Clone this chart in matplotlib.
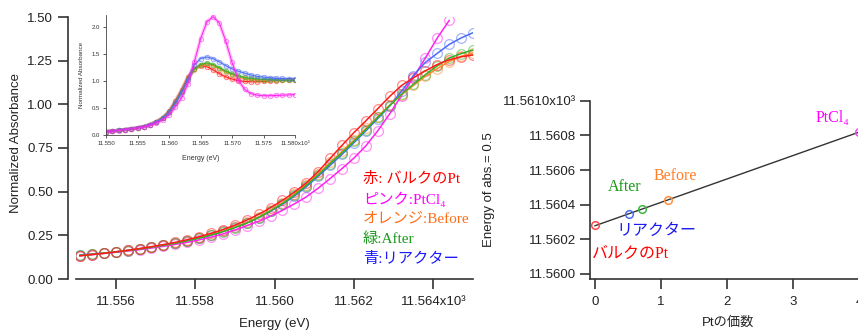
import matplotlib.pyplot as plt
import numpy as np

plt.rcParams['font.family'] = ['Liberation Sans', 'Noto Sans CJK JP']

# colours for the five samples
c_red = '#ff1a1a'
c_pink = '#ff22ee'
c_orange = '#ff8a2a'
c_green = '#33b02a'
c_blue = '#4a6cf7'

# -------------- main panel: edge region (keV) --------------
energy = [11.5551, 11.5554, 11.5557, 11.5560, 11.5563, 11.5566, 11.5569, 11.5572,
          11.5575, 11.5578, 11.5581, 11.5584, 11.5587, 11.5590, 11.5593, 11.5596,
          11.5599, 11.5602, 11.5605, 11.5608, 11.5611, 11.5614, 11.5617, 11.5620,
          11.5623, 11.5626, 11.5629, 11.5632, 11.5635, 11.5638, 11.5641, 11.5644,
          11.5647, 11.5650]
abs_red = [0.133, 0.140, 0.147, 0.155, 0.164, 0.174, 0.185, 0.197, 0.210, 0.225,
           0.242, 0.261, 0.283, 0.308, 0.337, 0.370, 0.408, 0.450, 0.497, 0.550,
           0.615, 0.690, 0.765, 0.838, 0.905, 0.975, 1.045, 1.108, 1.152, 1.192,
           1.228, 1.255, 1.272, 1.283]
abs_green = [0.135, 0.141, 0.148, 0.155, 0.163, 0.172, 0.182, 0.193, 0.205, 0.219,
             0.234, 0.251, 0.271, 0.294, 0.320, 0.352, 0.390, 0.432, 0.480, 0.535,
             0.595, 0.660, 0.722, 0.788, 0.855, 0.925, 0.992, 1.058, 1.115, 1.170,
             1.220, 1.265, 1.290, 1.312]
abs_orange = [0.134, 0.141, 0.148, 0.156, 0.164, 0.173, 0.183, 0.194, 0.206, 0.220,
              0.236, 0.253, 0.273, 0.297, 0.324, 0.356, 0.394, 0.437, 0.486, 0.541,
              0.602, 0.667, 0.730, 0.795, 0.862, 0.930, 0.995, 1.055, 1.108, 1.160,
              1.205, 1.245, 1.275, 1.295]
abs_blue = [0.138, 0.143, 0.149, 0.156, 0.164, 0.173, 0.183, 0.194, 0.206, 0.220,
            0.235, 0.252, 0.272, 0.295, 0.321, 0.352, 0.388, 0.428, 0.474, 0.528,
            0.588, 0.650, 0.713, 0.780, 0.848, 0.918, 0.990, 1.075, 1.165, 1.240,
            1.292, 1.343, 1.380, 1.410]
abs_pink = [0.133, 0.139, 0.146, 0.153, 0.160, 0.168, 0.177, 0.187, 0.198, 0.210,
            0.224, 0.240, 0.258, 0.280, 0.305, 0.330, 0.360, 0.393, 0.430, 0.470,
            0.520, 0.575, 0.632, 0.692, 0.762, 0.848, 0.945, 1.050, 1.155, 1.265,
            1.380, 1.480]

# -------------- inset: full spectra (keV) --------------
inset_energy = [11.550, 11.551, 11.552, 11.553, 11.554, 11.555, 11.556, 11.557,
                11.558, 11.559, 11.560, 11.561, 11.562, 11.563, 11.564, 11.565,
                11.566, 11.567, 11.568, 11.569, 11.570, 11.571, 11.572, 11.573,
                11.574, 11.575, 11.576, 11.577, 11.578, 11.579, 11.580]
inset_red = [0.060, 0.072, 0.085, 0.098, 0.113, 0.130, 0.155, 0.195, 0.248, 0.320,
             0.440, 0.630, 0.840, 1.080, 1.230, 1.285, 1.270, 1.210, 1.140, 1.080,
             1.040, 1.010, 0.995, 0.990, 0.990, 0.995, 1.005, 1.010, 1.015, 1.020, 1.020]
inset_green = [0.062, 0.073, 0.086, 0.099, 0.114, 0.131, 0.155, 0.193, 0.242, 0.310,
               0.420, 0.600, 0.800, 1.040, 1.220, 1.310, 1.340, 1.310, 1.250, 1.190,
               1.140, 1.100, 1.070, 1.050, 1.040, 1.030, 1.030, 1.025, 1.020, 1.020, 1.015]
inset_orange = [0.061, 0.073, 0.086, 0.099, 0.114, 0.131, 0.156, 0.194, 0.245, 0.315,
                0.425, 0.605, 0.810, 1.050, 1.210, 1.295, 1.320, 1.290, 1.230, 1.170,
                1.120, 1.080, 1.050, 1.035, 1.025, 1.020, 1.020, 1.020, 1.020, 1.020, 1.020]
inset_blue = [0.064, 0.075, 0.087, 0.100, 0.115, 0.133, 0.157, 0.194, 0.243, 0.310,
              0.420, 0.595, 0.790, 1.030, 1.300, 1.420, 1.450, 1.420, 1.360, 1.290,
              1.230, 1.185, 1.150, 1.115, 1.090, 1.075, 1.065, 1.055, 1.050, 1.045, 1.040]
inset_pink = [0.060, 0.071, 0.083, 0.096, 0.111, 0.128, 0.150, 0.180, 0.225, 0.280,
              0.370, 0.520, 0.690, 0.950, 1.350, 1.780, 2.100, 2.200, 2.080, 1.750,
              1.350, 1.020, 0.850, 0.770, 0.740, 0.730, 0.730, 0.735, 0.740, 0.745, 0.750]

# -------------- right panel: edge energy vs Pt valence --------------
valence = [0.0, 0.52, 0.71, 1.11, 4.0]
edge_energy = [11.560282, 11.560346, 11.560373, 11.560428, 11.560820]
point_colors = ['#ff4a4a', '#4a6cf7', '#3cb83c', '#ff9040', '#ff40ff']
point_names = ['バルクのPt', 'リアクター', 'After', 'Before', 'PtCl₄']
name_colors = ['#ff0000', '#1a1aee', '#1a9a1a', '#ff7f2a', '#ff00ff']
name_pos = [(0.53, 11.560118), (0.93, 11.560248), (0.455, 11.560500),
            (1.21, 11.560565), (3.6, 11.560900)]

serif_jp = ['Liberation Serif', 'Noto Sans CJK JP', 'DejaVu Serif']

fig = plt.figure(figsize=(8.58, 3.33), dpi=100)

# ---------------- main ----------------
ax = fig.add_axes([76 / 858, 1 - 279 / 333, 397 / 858, 262 / 333])
series = [(abs_pink, c_pink), (abs_blue, c_blue), (abs_orange, c_orange),
          (abs_green, c_green), (abs_red, c_red)]
for vals, col in series:
    x = energy[:len(vals)]
    ax.plot(x, vals, color=col, lw=1.1, zorder=3)
    ax.plot(x, vals, 'o', mfc='none', mec=col, mew=0.9, ms=7, alpha=0.5, zorder=2)

ax.set_xlim(11.555, 11.565)
ax.set_ylim(0, 1.5)
for s in ['top', 'right']:
    ax.spines[s].set_visible(False)
ax.spines['left'].set_position(('outward', 6))
for s in ['left', 'bottom']:
    ax.spines[s].set_linewidth(1.2)
    ax.spines[s].set_color('#333333')
ax.tick_params(direction='out', length=7, width=1.2, color='#333333',
               labelsize=9.5, labelcolor='#222222')
ax.tick_params(axis='x', pad=5)
ax.set_xticks([11.556, 11.558, 11.560, 11.562, 11.564])
ax.set_xticklabels(['11.556', '11.558', '11.560', '11.562', '11.564x10³'])
ax.set_yticks([0, 0.25, 0.5, 0.75, 1.0, 1.25, 1.5])
ax.set_yticklabels(['0.00', '0.25', '0.50', '0.75', '1.00', '1.25', '1.50'])
ax.set_ylabel('Normalized Absorbance', fontsize=9.5, color='#222222')
ax.yaxis.set_label_coords(-0.136, 0.52)
ax.set_xlabel('Energy (eV)', fontsize=9.5, color='#222222')
ax.xaxis.set_label_coords(0.5, -0.15)

legend_lines = [('赤: バルクのPt', '#ff0000'),
                ('ピンク:PtCl₄', '#ff00ff'),
                ('オレンジ:Before', '#ff6f1a'),
                ('緑:After', '#1f9a1f'),
                ('青:リアクター', '#1a1aff')]
for i, (txt, col) in enumerate(legend_lines):
    ax.text(0.723, 0.382 - i * 0.0765, txt, transform=ax.transAxes, color=col,
            fontsize=11, family=serif_jp, va='center', ha='left')

# ---------------- inset ----------------
ins = fig.add_axes([106 / 858, 1 - 135 / 333, 189 / 858, 120 / 333])
ins.patch.set_alpha(0)
inset_series = [(inset_red, c_red), (inset_orange, c_orange), (inset_green, c_green),
                (inset_blue, c_blue), (inset_pink, c_pink)]
for vals, col in inset_series:
    ins.plot(inset_energy, vals, color=col, lw=2.6, alpha=0.3)
    ins.plot(inset_energy, vals, 'o', mfc='none', mec=col, mew=0.6, ms=3.2, alpha=0.6)
    ins.plot(inset_energy, vals, color=col, lw=0.7)
ins.set_xlim(11.550, 11.580)
ins.set_ylim(0, 2.23)
for s in ['top', 'right']:
    ins.spines[s].set_visible(False)
for s in ['left', 'bottom']:
    ins.spines[s].set_linewidth(0.6)
    ins.spines[s].set_color('#444444')
ins.tick_params(direction='out', length=2.5, width=0.6, labelsize=4.3, pad=2,
                color='#444444', labelcolor='#333333')
ins.set_xticks([11.550, 11.555, 11.560, 11.565, 11.570, 11.575, 11.580])
ins.set_xticklabels(['11.550', '11.555', '11.560', '11.565', '11.570', '11.575',
                     '11.580x10³'])
ins.set_yticks([0, 0.5, 1.0, 1.5, 2.0])
ins.set_yticklabels(['0.0', '0.5', '1.0', '1.5', '2.0'])
ins.set_ylabel('Normalized Absorbance', fontsize=4.5, color='#333333')
ins.yaxis.set_label_coords(-0.115, 0.5)
ins.set_xlabel('Energy (eV)', fontsize=5, color='#333333')
ins.xaxis.set_label_coords(0.5, -0.165)

# ---------------- right panel ----------------
ax2 = fig.add_axes([590 / 858, 1 - 279 / 333, 276 / 858, 178.3 / 333])
coef = np.polyfit(valence, edge_energy, 1)
fit_x = np.array([0.0, 4.1])
ax2.plot(fit_x, np.polyval(coef, fit_x), color='#333333', lw=1.0, zorder=2)
for v, e, col in zip(valence, edge_energy, point_colors):
    ax2.plot(v, e, 'o', mfc='none', mec=col, mew=1.1, ms=5.5, zorder=3)
for name, col, (tx, ty) in zip(point_names, name_colors, name_pos):
    ax2.text(tx, ty, name, color=col, fontsize=11.5, family=serif_jp,
             ha='center', va='center')

ax2.set_xlim(-0.076, 4.1)
ax2.set_ylim(11.559971, 11.5610)
for s in ['top', 'right']:
    ax2.spines[s].set_visible(False)
for s in ['left', 'bottom']:
    ax2.spines[s].set_linewidth(1.2)
    ax2.spines[s].set_color('#333333')
ax2.tick_params(direction='out', length=7, width=1.2, color='#333333',
                labelsize=9.5, labelcolor='#222222', pad=3)
ax2.tick_params(axis='x', pad=5)
ax2.set_xticks([0, 1, 2, 3, 4])
ax2.set_xticklabels(['0', '1', '2', '3', '4'])
ax2.set_yticks([11.5600, 11.5602, 11.5604, 11.5606, 11.5608, 11.5610])
ax2.set_yticklabels(['11.5600', '11.5602', '11.5604', '11.5606', '11.5608',
                     '11.5610x10³'])
ax2.set_ylabel('Energy of abs.= 0.5', fontsize=9.5, color='#222222')
ax2.yaxis.set_label_coords(-0.345, 0.5)
ax2.set_xlabel('Ptの価数', fontsize=9.5, color='#222222')
ax2.xaxis.set_label_coords(0.5, -0.21)

fig.savefig('out.png', dpi=100)
